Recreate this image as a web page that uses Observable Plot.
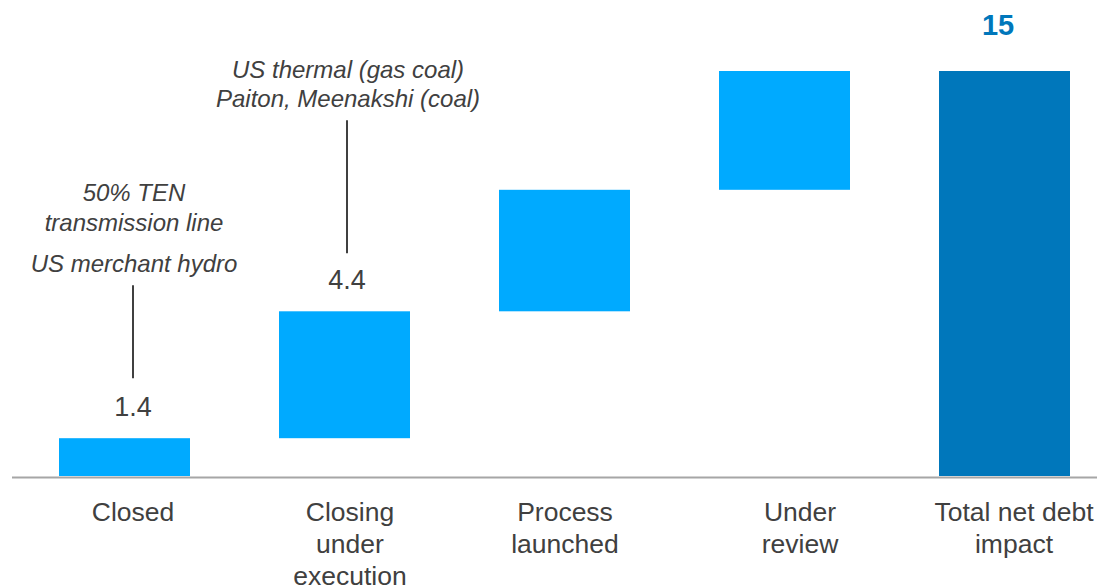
<!DOCTYPE html>
<html>
<head>
<meta charset="utf-8">
<script src="https://cdn.jsdelivr.net/npm/d3@7"></script>
<script src="https://cdn.jsdelivr.net/npm/@observablehq/plot@0.6"></script>
<style>
  html, body { margin: 0; padding: 0; background: #ffffff; }
  #chart { width: 1097px; height: 586px; }
</style>
</head>
<body>
<div id="chart"></div>
<script>
// ---- data ----
const categories = ["Closed", "Closing under execution", "Process launched", "Under review", "Total net debt impact"];
const tickLabels = ["Closed", "Closing\nunder\nexecution", "Process\nlaunched", "Under\nreview", "Total net debt\nimpact"];
const stepValues = [1.4, 4.7, 4.5, 4.4];   // increments as drawn
const totalValue = 15;
const totalLabel = "15";
const valueLabelCategories = ["Closed", "Closing under execution"];
const valueLabels = ["1.4", "4.4"];
const noteCategories = ["Closed", "Closed", "Closing under execution"];
const noteTexts = ["50% TEN\ntransmission line", "US merchant hydro", "US thermal (gas coal)\nPaiton, Meenakshi (coal)"];

// ---- build rows ----
let cum = 0;
const rows = stepValues.map((v, i) => {
  const r = {category: categories[i], y1: cum, y2: cum + v, total: false};
  cum += v;
  return r;
});
rows.push({category: categories[4], y1: 0, y2: totalValue, total: true});
const topOf = c => rows.find(r => r.category === c).y2;

const yDomain = [0, 15], yRange = [476, 71];
const pxPerUnit = (yRange[0] - yRange[1]) / (yDomain[1] - yDomain[0]);
const up = px => px / pxPerUnit;

const FONT = "'Liberation Sans', Arial, Helvetica, sans-serif";
const GREY = "#404040";

// label nudges (style only)
const catDx = [8, 5, 0, 15, 9];
const noteDx = {"Closed": 9, "Closing under execution": 3};
const noteDy = [-232, -176, -229];
const connector = [[60, 153], [58, 191]];

const marks = [];
marks.push(Plot.barY(rows, {
  x: "category", y1: "y1", y2: "y2",
  fill: d => d.total ? "#0077BB" : "#00AAFF"
}));
marks.push(Plot.ruleY([0], {stroke: "#a6a6a6", strokeWidth: 2, dy: 1}));

// value labels and connectors
valueLabelCategories.forEach((c, i) => {
  marks.push(Plot.text([valueLabels[i]], {
    x: () => c, y: () => topOf(c), text: d => d,
    dy: -31, dx: noteDx[c] - 1, fontSize: 27, fill: GREY
  }));
  marks.push(Plot.ruleX([c], {
    x: d => d, y1: () => topOf(c) + up(connector[i][0]), y2: () => topOf(c) + up(connector[i][1]),
    dx: noteDx[c] - 1, stroke: "#000000", strokeWidth: 1.5
  }));
});

// total label
marks.push(Plot.text([totalLabel], {
  x: () => categories[4], y: () => totalValue, text: d => d,
  dy: -46, dx: -7, fontSize: 29, fontWeight: "bold", fill: "#0077BB"
}));

// notes
noteTexts.forEach((t, i) => {
  const c = noteCategories[i];
  marks.push(Plot.text([t], {
    x: () => c, y: () => topOf(c), text: d => d,
    dy: noteDy[i], dx: noteDx[c], fontSize: 24, fontStyle: "italic",
    lineHeight: 1.22, fill: GREY
  }));
});

// category labels
categories.forEach((c, i) => {
  marks.push(Plot.text([tickLabels[i]], {
    x: () => c, y: () => 0, text: d => d,
    lineAnchor: "top", dy: 22, dx: catDx[i], fontSize: 26.5,
    lineHeight: 1.21, fill: GREY
  }));
});

const chart = Plot.plot({
  width: 1097,
  height: 586,
  marginTop: 0, marginBottom: 0, marginLeft: 12, marginRight: 0,
  x: {type: "band", domain: categories, range: [12.75, 1115.25], paddingInner: 0.405, paddingOuter: 0.2, axis: null},
  y: {domain: yDomain, range: yRange, axis: null},
  color: {type: "identity"},
  style: {fontFamily: FONT, background: "#ffffff", overflow: "visible"},
  marks
});
document.getElementById("chart").appendChild(chart);
</script>
</body>
</html>
